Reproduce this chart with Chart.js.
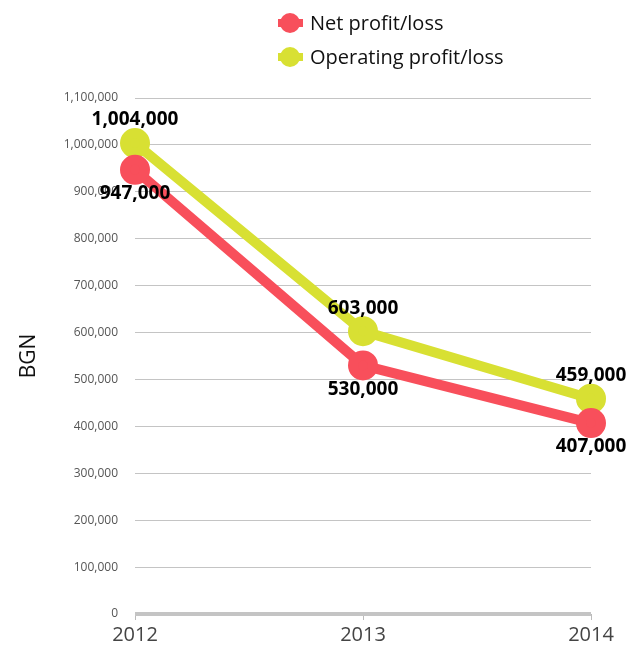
<!DOCTYPE html>
<html>
<head>
<meta charset="utf-8">
<script src="https://cdn.jsdelivr.net/npm/chart.js@4"></script>
<style>
  html, body { margin: 0; padding: 0; background: #fff; }
  #wrap { width: 641px; height: 650px; }
</style>
</head>
<body>
<div id="wrap"><canvas id="profitChart"></canvas></div>
<script>
const years = ['2012', '2013', '2014'];
const netProfit = [947000, 530000, 407000];
const operatingProfit = [1004000, 603000, 459000];
const seriesNames = ['Net profit/loss', 'Operating profit/loss'];
const seriesColors = ['#f84f5b', '#d8e033'];
const labelSide = ['below', 'above'];

const fontFamily = '"Open Sans", "DejaVu Sans", sans-serif';
const fmt = v => v.toLocaleString('en-US');

// legend drawn by hand so both rows line up on the left
const stackedLegend = {
     id: 'stackedLegend',
     afterDraw(chart) {
          const ctx = chart.ctx;
          ctx.save();
          chart.data.datasets.forEach((ds, i) => {
               const y = 23 + i * 34;
               ctx.strokeStyle = ds.borderColor;
               ctx.lineWidth = 8;
               ctx.beginPath();
               ctx.moveTo(278, y);
               ctx.lineTo(303, y);
               ctx.stroke();
               ctx.fillStyle = ds.borderColor;
               ctx.beginPath();
               ctx.arc(290, y, 10, 0, Math.PI * 2);
               ctx.fill();
               ctx.fillStyle = '#111';
               ctx.font = '20px ' + fontFamily;
               ctx.textBaseline = 'middle';
               ctx.textAlign = 'left';
               ctx.fillText(ds.label, 310, y + 1);
          });
          ctx.restore();
     }
};

const valueLabels = {
     id: 'valueLabels',
     afterDatasetsDraw(chart) {
          const ctx = chart.ctx;
          ctx.save();
          ctx.font = 'bold 19px ' + fontFamily;
          ctx.fillStyle = '#000';
          ctx.textAlign = 'center';
          ctx.textBaseline = 'middle';
          chart.data.datasets.forEach((ds, i) => {
               const meta = chart.getDatasetMeta(i);
               meta.data.forEach((pt, j) => {
                    const dy = labelSide[i] === 'above' ? -23 : 24;
                    ctx.fillText(fmt(ds.data[j]), pt.x, pt.y + dy);
               });
          });
          ctx.restore();
     }
};

new Chart(document.getElementById('profitChart'), {
     type: 'line',
     data: {
          labels: years,
          datasets: [
               {
                    label: seriesNames[0],
                    data: netProfit,
                    borderColor: seriesColors[0],
                    backgroundColor: seriesColors[0],
                    borderWidth: 10,
                    pointRadius: 10,
                    pointHoverRadius: 10,
                    tension: 0
               },
               {
                    label: seriesNames[1],
                    data: operatingProfit,
                    borderColor: seriesColors[1],
                    backgroundColor: seriesColors[1],
                    borderWidth: 10,
                    pointRadius: 10,
                    pointHoverRadius: 10,
                    tension: 0
               }
          ]
     },
     options: {
          responsive: true,
          maintainAspectRatio: false,
          animation: false,
          layout: { padding: { top: 98, right: 50, bottom: 0, left: 0 } },
          plugins: {
               legend: { display: false },
               tooltip: { enabled: false }
          },
          scales: {
               x: {
                    offset: false,
                    grid: { drawOnChartArea: false, tickLength: 6, color: '#bbb' },
                    border: { display: false },
                    ticks: { color: '#444', font: { family: fontFamily, size: 20, lineHeight: 1.2 }, padding: 3 }
               },
               y: {
                    min: 0,
                    max: 1100000,
                    ticks: {
                         stepSize: 100000,
                         color: '#555',
                         padding: 17,
                         font: { family: fontFamily, size: 12 },
                         callback: v => fmt(v)
                    },
                    grid: {
                         color: '#c4c4c4',
                         lineWidth: ctx => ctx.tick && ctx.tick.value === 0 ? 4 : 1,
                         drawTicks: false
                    },
                    border: { display: false },
                    title: {
                         display: true,
                         text: 'BGN',
                         color: '#111',
                         font: { family: fontFamily, size: 21 },
                         padding: { top: 16, bottom: 0 }
                    },
                    afterFit: axis => { axis.width = 135; }
               }
          }
     },
     plugins: [stackedLegend, valueLabels]
});
</script>
</body>
</html>
